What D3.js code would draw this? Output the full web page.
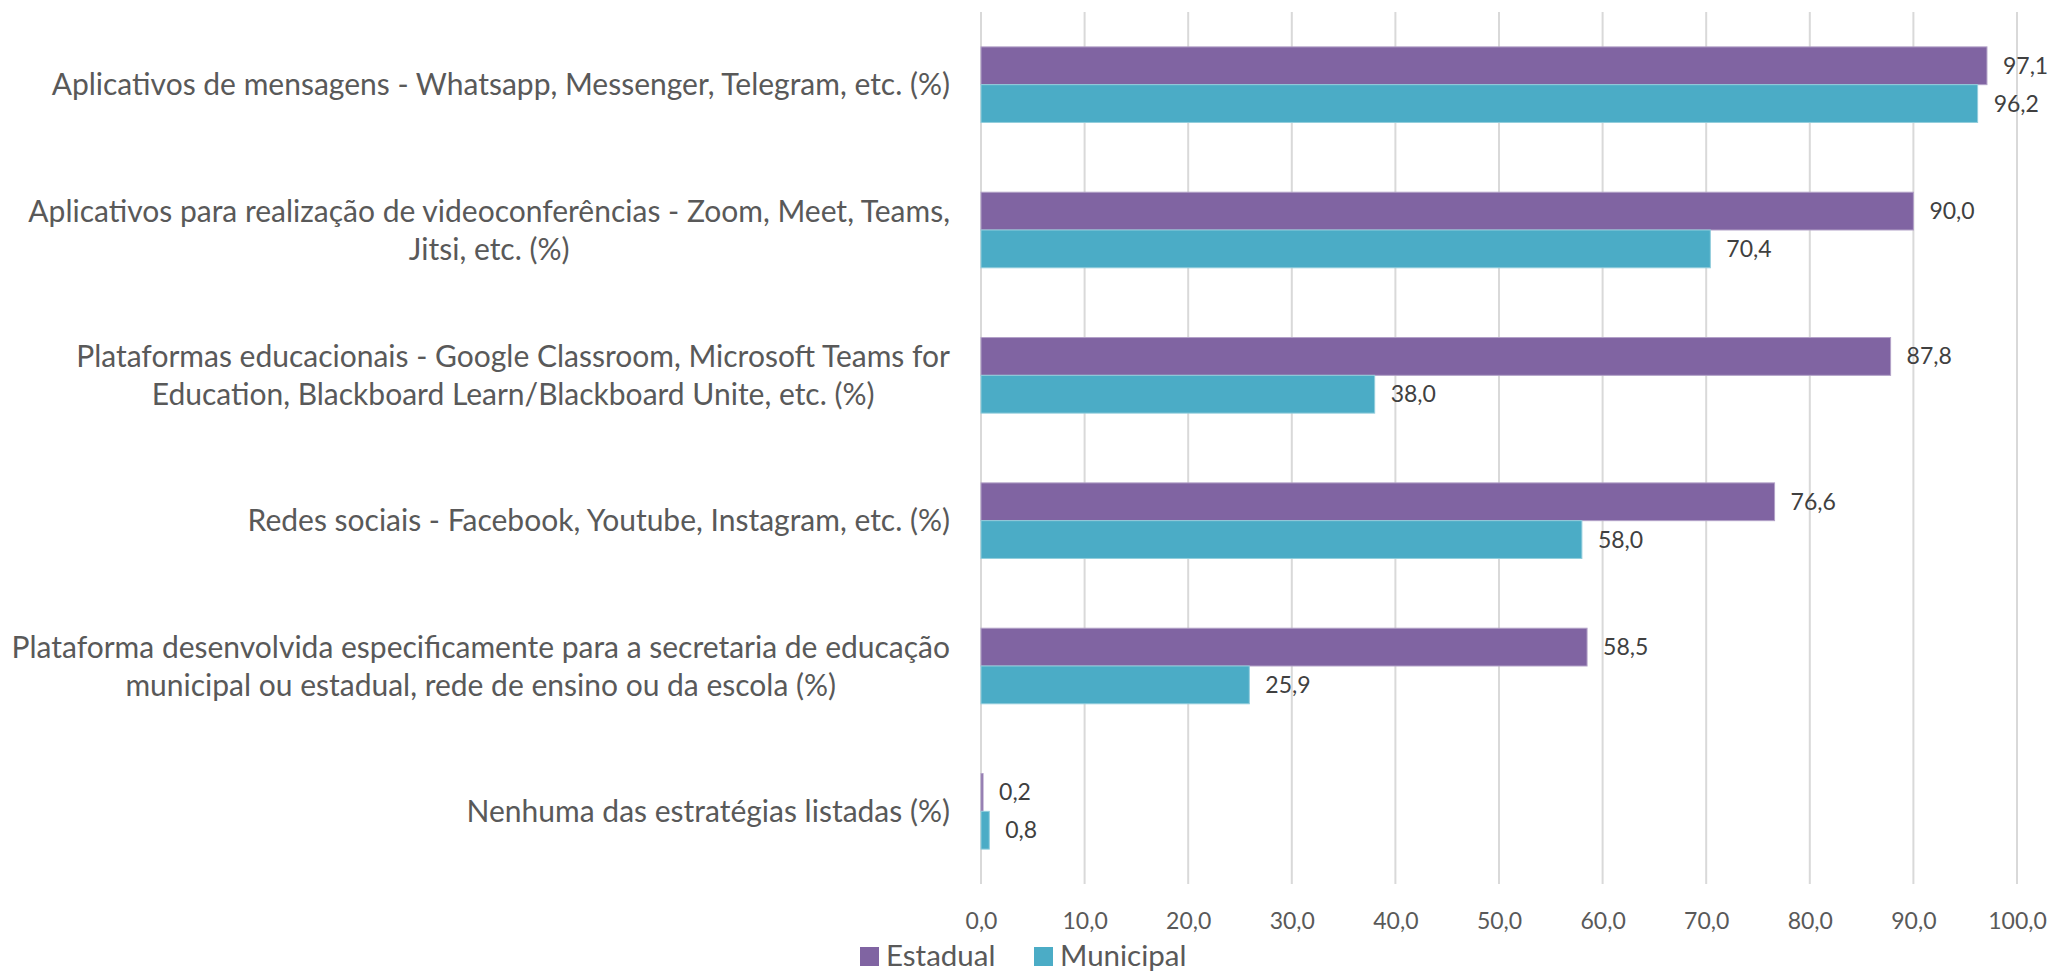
<!DOCTYPE html>
<html>
<head>
<meta charset="utf-8">
<script src="https://cdn.jsdelivr.net/npm/d3@7"></script>
<style>
  html, body { margin: 0; padding: 0; background: #fff; }
  svg { display: block; }
  text { font-family: Lato, "Open Sans", sans-serif; fill: #595959; }
</style>
</head>
<body>
<svg id="chart" width="2052" height="974"></svg>
<script>
// Categories (each entry is a list of text lines)
const categories = [
  ["Aplicativos de mensagens - Whatsapp, Messenger, Telegram, etc. (%)"],
  ["Aplicativos para realização de videoconferências - Zoom, Meet, Teams,", "Jitsi, etc. (%)"],
  ["Plataformas educacionais - Google Classroom, Microsoft Teams for", "Education, Blackboard Learn/Blackboard Unite, etc. (%)"],
  ["Redes sociais - Facebook, Youtube, Instagram, etc. (%)"],
  ["Plataforma desenvolvida especificamente para a secretaria de educação", "municipal ou estadual, rede de ensino ou da escola (%)"],
  ["Nenhuma das estratégias listadas (%)"]
];
const seriesNames = ["Estadual", "Municipal"];
const estadual = [97.1, 90.0, 87.8, 76.6, 58.5, 0.2];
const municipal = [96.2, 70.4, 38.0, 58.0, 25.9, 0.8];
const tickValues = [0, 10, 20, 30, 40, 50, 60, 70, 80, 90, 100];

const colors = { Estadual: "#8064A2", Municipal: "#4BACC6" };
const strokes = { Estadual: "#B2A1C7", Municipal: "#92CDDC" };

const ptBR = d3.formatLocale({ decimal: ",", thousands: ".", grouping: [3], currency: ["R$", ""] });
const fmt = ptBR.format(".1f");

const svg = d3.select("#chart");
const plotLeft = 981, plotRight = 2017, plotTop = 12, plotBottom = 884;

const x = d3.scaleLinear().domain([0, 100]).range([plotLeft, plotRight]);
const idx = categories.map((d, i) => i);
const y = d3.scaleBand().domain(idx).range([plotTop, plotBottom]).paddingInner(0.48).paddingOuter(0.24);
const ySub = d3.scaleBand().domain(seriesNames).range([0, y.bandwidth()]);

// Vertical gridlines
svg.append("g")
  .selectAll("line")
  .data(tickValues)
  .join("line")
  .attr("x1", d => x(d)).attr("x2", d => x(d))
  .attr("y1", plotTop).attr("y2", plotBottom)
  .attr("stroke", "#d9d9d9")
  .attr("stroke-width", 2);

// X axis tick labels
const xAxis = d3.axisBottom(x).tickValues(tickValues).tickFormat(fmt).tickSize(0).tickPadding(0);
const gx = svg.append("g").attr("transform", `translate(0,${plotBottom})`).call(xAxis);
gx.select(".domain").remove();
gx.selectAll("text")
  .attr("y", 37)
  .attr("dy", "0.35em")
  .style("font-family", "Lato, 'Open Sans', sans-serif")
  .style("font-size", "23px")
  .style("fill", "#595959");

// Bars
const rows = idx.map(i => ({ i, values: [
  { key: "Estadual", v: estadual[i] },
  { key: "Municipal", v: municipal[i] }
]}));

const groups = svg.append("g").selectAll("g")
  .data(rows)
  .join("g")
  .attr("transform", d => `translate(0,${y(d.i)})`);

groups.selectAll("rect")
  .data(d => d.values)
  .join("rect")
  .attr("x", x(0))
  .attr("y", d => ySub(d.key))
  .attr("width", d => x(d.v) - x(0))
  .attr("height", ySub.bandwidth())
  .attr("fill", d => colors[d.key])
  .attr("stroke", d => strokes[d.key])
  .attr("stroke-width", 1);

// Value labels
groups.selectAll("text.val")
  .data(d => d.values)
  .join("text")
  .attr("class", "val")
  .attr("x", d => x(d.v) + 16)
  .attr("y", d => ySub(d.key) + ySub.bandwidth() / 2)
  .attr("dy", "0.35em")
  .style("font-size", "23px")
  .style("fill", "#404040")
  .text(d => fmt(d.v));

// Category labels: centered lines, block right-aligned to the axis
const labelRight = 950;
const lineH = 38;
const catG = svg.append("g");
categories.forEach((lines, i) => {
  const t = catG.append("text")
    .attr("text-anchor", "middle")
    .style("font-size", "30px");
  const cy = y(i) + y.bandwidth() / 2;
  const n = lines.length;
  lines.forEach((ln, k) => {
    t.append("tspan")
      .attr("y", cy + (k - (n - 1) / 2) * lineH)
      .attr("dy", "0.35em")
      .text(ln);
  });
  let maxW = 0;
  t.selectAll("tspan").each(function() {
    maxW = Math.max(maxW, this.getComputedTextLength());
  });
  t.selectAll("tspan").attr("x", labelRight - maxW / 2);
});

// Legend
const legend = svg.append("g").attr("transform", "translate(860,954)");
const legendItems = [
  { key: "Estadual", x: 0 },
  { key: "Municipal", x: 174 }
];
legendItems.forEach(it => {
  const g = legend.append("g").attr("transform", `translate(${it.x},0)`);
  g.append("rect")
    .attr("x", 0).attr("y", -7)
    .attr("width", 19).attr("height", 19)
    .attr("fill", colors[it.key]);
  g.append("text")
    .attr("x", 26).attr("y", 2)
    .attr("dy", "0.35em")
    .style("font-size", "29.5px")
    .text(it.key);
});
</script>
</body>
</html>
